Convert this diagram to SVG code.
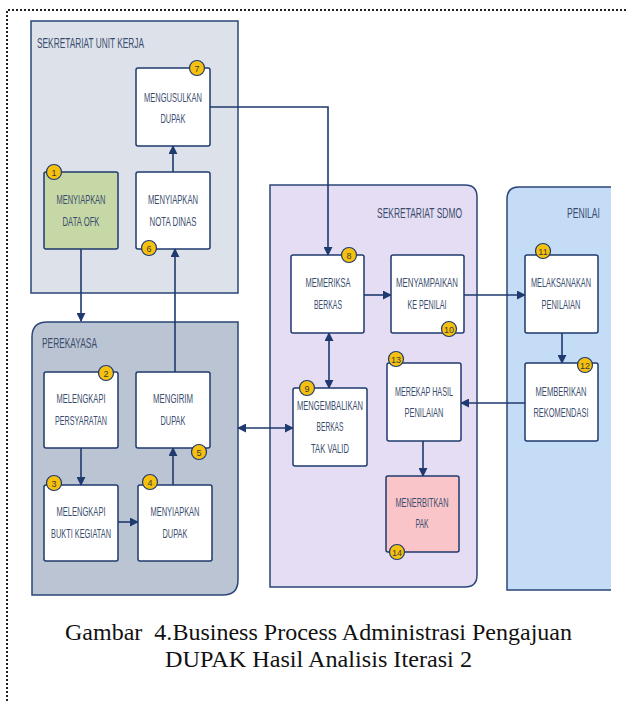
<svg xmlns="http://www.w3.org/2000/svg" width="627" height="701" viewBox="0 0 627 701">
<defs>
<marker id="ah" viewBox="0 0 10 10" refX="9" refY="5" markerWidth="9" markerHeight="9" markerUnits="userSpaceOnUse" orient="auto-start-reverse">
<path d="M0,0 L10,5 L0,10 z" fill="#1f3a6e"/>
</marker>
<style>
.pan{stroke:#2a4677;stroke-width:1.5}
.box{fill:#fff;stroke:#1f3a6e;stroke-width:1.5}
.t{font-family:"Liberation Sans",Arial,sans-serif;font-size:12.5px;fill:#3b4d6e;text-anchor:middle}
.pt{font-family:"Liberation Sans",Arial,sans-serif;font-size:14px;fill:#3b4d6e}
.bd{fill:#f5c10e;stroke:#1f3a6e;stroke-width:1.2}
.bt{font-family:"Liberation Sans",Arial,sans-serif;font-size:9px;fill:#3b3b3b;text-anchor:middle}
.c{fill:none;stroke:#1f3a6e;stroke-width:1.6}
.cap{font-family:"Liberation Serif","Times New Roman",serif;font-size:23px;fill:#111}
</style>
</defs>
<rect x="0" y="0" width="627" height="701" fill="#fff"/>
<path d="M7,701 L7,10 L627,10" fill="none" stroke="#222" stroke-width="2" stroke-dasharray="2,2"/>

<g id="lane-suk">
<rect class="pan" x="31" y="21" width="207" height="272" fill="#dde2ea"/>
<text class="pt" x="37" y="48" textLength="107" lengthAdjust="spacingAndGlyphs">SEKRETARIAT UNIT KERJA</text>
</g>
<g id="lane-perekayasa">
<path class="pan" d="M47,322 L238,322 L238,580 Q238,595 223,595 L32,595 L32,337 Q32,322 47,322 z" fill="#bac4d3"/>
<text class="pt" x="42" y="348" textLength="55" lengthAdjust="spacingAndGlyphs">PEREKAYASA</text>
</g>
<g id="lane-sdmo">
<path class="pan" d="M270,185 L465,185 Q477,185 477,197 L477,575 Q477,587 465,587 L270,587 z" fill="#e4ddf3"/>
<text class="pt" x="462" y="218" text-anchor="end" textLength="85" lengthAdjust="spacingAndGlyphs">SEKRETARIAT SDMO</text>
</g>
<g id="lane-penilai">
<path d="M611,187 L519,187 Q507,187 507,199 L507,590 L611,590 z" fill="#c5dcf7"/>
<path class="pan" d="M611,187 L519,187 Q507,187 507,199 L507,590 L611,590" fill="none"/>
<text class="pt" x="600" y="218" text-anchor="end" textLength="33" lengthAdjust="spacingAndGlyphs">PENILAI</text>
</g>

<g id="connectors">
<line class="c" x1="81" y1="249" x2="81" y2="321" marker-end="url(#ah)"/>
<line class="c" x1="81" y1="448" x2="81" y2="485" marker-end="url(#ah)"/>
<line class="c" x1="118" y1="522" x2="138" y2="522" marker-end="url(#ah)"/>
<line class="c" x1="173" y1="485" x2="173" y2="448" marker-end="url(#ah)"/>
<line class="c" x1="175" y1="372" x2="175" y2="249" marker-end="url(#ah)"/>
<line class="c" x1="173" y1="172" x2="173" y2="146" marker-end="url(#ah)"/>
<path class="c" d="M210,107 L328,107 L328,255" marker-end="url(#ah)"/>
<line class="c" x1="364" y1="295" x2="391" y2="295" marker-end="url(#ah)"/>
<line class="c" x1="464" y1="295" x2="525" y2="295" marker-end="url(#ah)"/>
<line class="c" x1="562" y1="333" x2="562" y2="363" marker-end="url(#ah)"/>
<line class="c" x1="525" y1="403" x2="461" y2="403" marker-end="url(#ah)"/>
<line class="c" x1="423" y1="441" x2="423" y2="476" marker-end="url(#ah)"/>
<line class="c" x1="329" y1="333" x2="329" y2="388" marker-start="url(#ah)" marker-end="url(#ah)"/>
<line class="c" x1="238" y1="428" x2="293" y2="428" marker-start="url(#ah)" marker-end="url(#ah)"/>
</g>

<g id="n7">
<rect class="box" x="136" y="68" width="74" height="78" rx="2"/>
<text class="t" x="173" y="102" textLength="58" lengthAdjust="spacingAndGlyphs">MENGUSULKAN</text>
<text class="t" x="173" y="123" textLength="25" lengthAdjust="spacingAndGlyphs">DUPAK</text>
<circle class="bd" cx="197" cy="68" r="7.5"/><text class="bt" x="197" y="71.5">7</text>
</g>
<g id="n1">
<rect x="44" y="172" width="74" height="77" rx="2" fill="#c6d8a6" stroke="#1f3a6e" stroke-width="1.5"/>
<text class="t" x="81" y="204" textLength="49" lengthAdjust="spacingAndGlyphs">MENYIAPKAN</text>
<text class="t" x="81" y="226" textLength="37" lengthAdjust="spacingAndGlyphs">DATA OFK</text>
<circle class="bd" cx="54" cy="172" r="7.5"/><text class="bt" x="54" y="175.5">1</text>
</g>
<g id="n6">
<rect class="box" x="136" y="172" width="74" height="77" rx="2"/>
<text class="t" x="173" y="204" textLength="50" lengthAdjust="spacingAndGlyphs">MENYIAPKAN</text>
<text class="t" x="173" y="226" textLength="47" lengthAdjust="spacingAndGlyphs">NOTA DINAS</text>
<circle class="bd" cx="149" cy="248" r="7.5"/><text class="bt" x="149" y="251.5">6</text>
</g>
<g id="n2">
<rect class="box" x="44" y="372" width="74" height="76" rx="2"/>
<text class="t" x="81" y="403" textLength="49" lengthAdjust="spacingAndGlyphs">MELENGKAPI</text>
<text class="t" x="81" y="425" textLength="52" lengthAdjust="spacingAndGlyphs">PERSYARATAN</text>
<circle class="bd" cx="106" cy="373" r="7.5"/><text class="bt" x="106" y="376.5">2</text>
</g>
<g id="n5">
<rect class="box" x="136" y="372" width="74" height="76" rx="2"/>
<text class="t" x="173" y="403" textLength="40" lengthAdjust="spacingAndGlyphs">MENGIRIM</text>
<text class="t" x="173" y="425" textLength="25" lengthAdjust="spacingAndGlyphs">DUPAK</text>
<circle class="bd" cx="199" cy="452" r="7.5"/><text class="bt" x="199" y="455.5">5</text>
</g>
<g id="n3">
<rect class="box" x="44" y="485" width="74" height="76" rx="2"/>
<text class="t" x="81" y="516" textLength="49" lengthAdjust="spacingAndGlyphs">MELENGKAPI</text>
<text class="t" x="81" y="538" textLength="60" lengthAdjust="spacingAndGlyphs">BUKTI KEGIATAN</text>
<circle class="bd" cx="54" cy="483" r="7.5"/><text class="bt" x="54" y="486.5">3</text>
</g>
<g id="n4">
<rect class="box" x="138" y="485" width="74" height="76" rx="2"/>
<text class="t" x="175" y="516" textLength="49" lengthAdjust="spacingAndGlyphs">MENYIAPKAN</text>
<text class="t" x="175" y="538" textLength="25" lengthAdjust="spacingAndGlyphs">DUPAK</text>
<circle class="bd" cx="150" cy="482" r="7.5"/><text class="bt" x="150" y="485.5">4</text>
</g>
<g id="n8">
<rect class="box" x="291" y="255" width="73" height="78" rx="2"/>
<text class="t" x="328" y="287" textLength="45" lengthAdjust="spacingAndGlyphs">MEMERIKSA</text>
<text class="t" x="328" y="309" textLength="28" lengthAdjust="spacingAndGlyphs">BERKAS</text>
<circle class="bd" cx="349" cy="255" r="7.5"/><text class="bt" x="349" y="258.5">8</text>
</g>
<g id="n10">
<rect class="box" x="391" y="255" width="73" height="78" rx="2"/>
<text class="t" x="427" y="287" textLength="62" lengthAdjust="spacingAndGlyphs">MENYAMPAIKAN</text>
<text class="t" x="427" y="309" textLength="39" lengthAdjust="spacingAndGlyphs">KE PENILAI</text>
<circle class="bd" cx="449" cy="329" r="7.5"/><text class="bt" x="449" y="332.5">10</text>
</g>
<g id="n11">
<rect class="box" x="525" y="255" width="73" height="78" rx="2"/>
<text class="t" x="561" y="287" textLength="60" lengthAdjust="spacingAndGlyphs">MELAKSANAKAN</text>
<text class="t" x="561" y="309" textLength="39" lengthAdjust="spacingAndGlyphs">PENILAIAN</text>
<circle class="bd" cx="543" cy="251" r="7.5"/><text class="bt" x="543" y="254.5">11</text>
</g>
<g id="n12">
<rect class="box" x="525" y="363" width="73" height="78" rx="2"/>
<text class="t" x="561" y="396" textLength="51" lengthAdjust="spacingAndGlyphs">MEMBERIKAN</text>
<text class="t" x="561" y="417" textLength="55" lengthAdjust="spacingAndGlyphs">REKOMENDASI</text>
<circle class="bd" cx="585" cy="365" r="7.5"/><text class="bt" x="585" y="368.5">12</text>
</g>
<g id="n13">
<rect class="box" x="387" y="363" width="74" height="78" rx="2"/>
<text class="t" x="424" y="396" textLength="58" lengthAdjust="spacingAndGlyphs">MEREKAP HASIL</text>
<text class="t" x="424" y="417" textLength="39" lengthAdjust="spacingAndGlyphs">PENILAIAN</text>
<circle class="bd" cx="396" cy="359" r="7.5"/><text class="bt" x="396" y="362.5">13</text>
</g>
<g id="n9">
<rect class="box" x="293" y="388" width="74" height="78" rx="2"/>
<text class="t" x="330" y="410" textLength="66" lengthAdjust="spacingAndGlyphs">MENGEMBALIKAN</text>
<text class="t" x="330" y="431" textLength="27" lengthAdjust="spacingAndGlyphs">BERKAS</text>
<text class="t" x="330" y="453" textLength="38" lengthAdjust="spacingAndGlyphs">TAK VALID</text>
<circle class="bd" cx="307" cy="388" r="7.5"/><text class="bt" x="307" y="391.5">9</text>
</g>
<g id="n14">
<rect x="386" y="476" width="73" height="76" rx="2" fill="#fac5c9" stroke="#1f3a6e" stroke-width="1.5"/>
<text class="t" x="422" y="507" textLength="53" lengthAdjust="spacingAndGlyphs">MENERBITKAN</text>
<text class="t" x="422" y="528" textLength="13" lengthAdjust="spacingAndGlyphs">PAK</text>
<circle class="bd" cx="397" cy="552" r="7.5"/><text class="bt" x="397" y="555.5">14</text>
</g>

<g id="caption">
<text class="cap" x="65" y="640" xml:space="preserve" textLength="507" lengthAdjust="spacingAndGlyphs">Gambar  4.Business Process Administrasi Pengajuan</text>
<text class="cap" x="165" y="667" textLength="307" lengthAdjust="spacingAndGlyphs">DUPAK Hasil Analisis Iterasi 2</text>
</g>
</svg>
